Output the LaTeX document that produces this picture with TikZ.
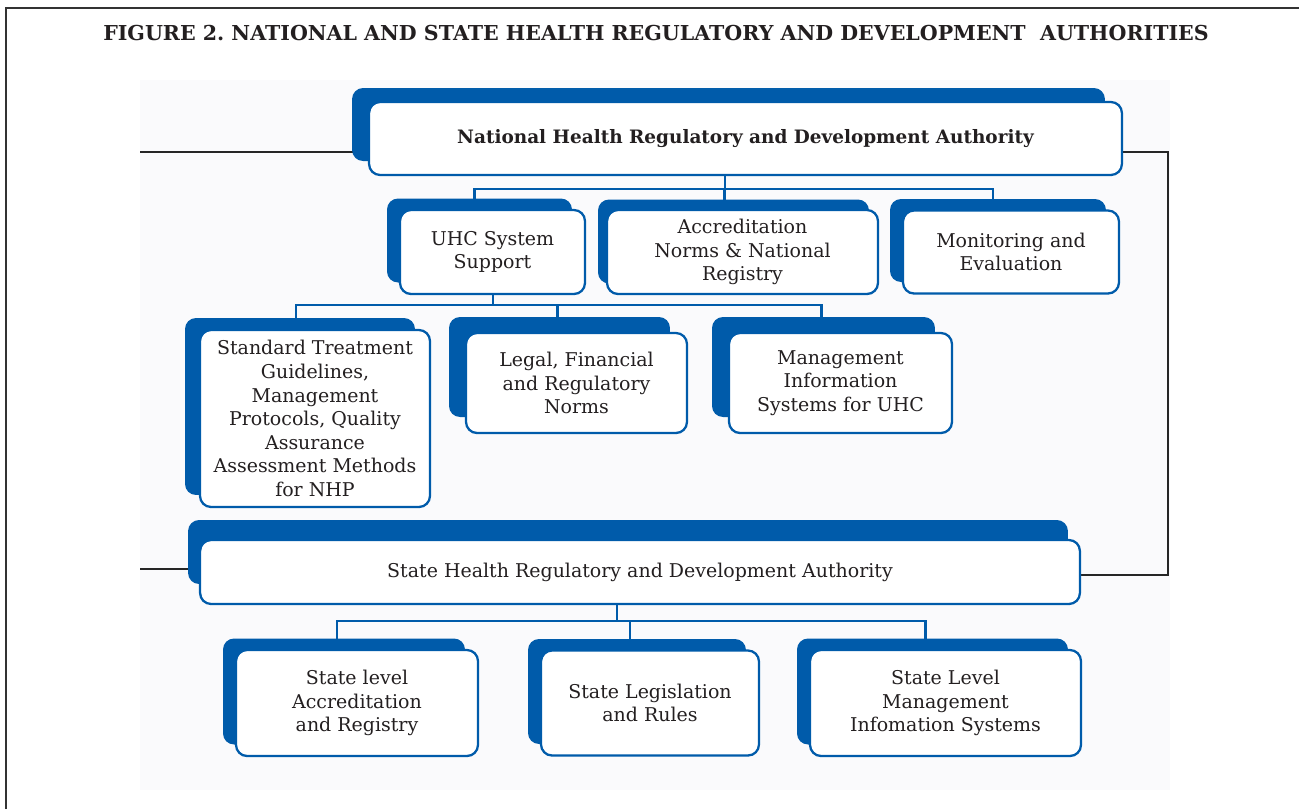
\documentclass[tikz,border=0pt]{standalone}
\usepackage{fontspec}
\setmainfont{DejaVu Serif}
\usepackage{tikz}
\usetikzlibrary{positioning,shadows,backgrounds}
\definecolor{f2blue}{RGB}{0,91,170}
\definecolor{f2ink}{RGB}{35,31,32}
\definecolor{f2back}{RGB}{250,250,252}
\tikzset{
  f2box/.style={rectangle, rounded corners=2.2mm, draw=f2blue, line width=1.3pt,
                fill=white, text=f2ink, align=center, inner sep=2pt,
                font=\fontsize{10.8}{13.4}\selectfont},
  f2sh/.style 2 args={general shadow={fill=f2blue, shadow xshift=#1, shadow yshift=#2}},
  f2card/.style={f2box, f2sh={-2.6mm}{2.3mm}},
  f2bus/.style={draw=f2blue, line width=1.5pt},
  f2link/.style={draw=black!85, line width=1.4pt},
}

\begin{document}
\frenchspacing
\begin{tikzpicture}[x=0.02cm, y=-0.02cm]
  \useasboundingbox (0,0) rectangle (1299,809);
  \draw[black!80, line width=1.1pt] (6,809) -- (6,8) -- (1299,8);
  \node[text=f2ink, font=\bfseries\fontsize{11.7}{14}\selectfont] (T) at (656,33)
    {FIGURE 2. NATIONAL AND STATE HEALTH REGULATORY AND DEVELOPMENT~\ AUTHORITIES};

  \node[f2box, f2sh={-3.4mm}{2.8mm}, minimum width=15.06cm, minimum height=1.46cm,
        font=\bfseries\fontsize{10.5}{13}\selectfont] (NA) at (745.5,138.5)
    {National Health Regulatory and Development Authority};
  \node[f2card, minimum width=3.7cm, minimum height=1.68cm] (US) at (492.5,252) {UHC System\\Support};
  \node[f2box, f2sh={-1.8mm}{2.1mm}, minimum width=5.42cm, minimum height=1.68cm] (AN) at (742.5,252) {Accreditation\\Norms \& National\\Registry};
  \node[f2card, minimum width=4.32cm, minimum height=1.66cm] (ME) at (1011,252) {Monitoring and\\Evaluation};

  \node[f2box, f2sh={-3mm}{2.4mm}, minimum width=4.6cm, minimum height=3.54cm] (SG) at (315,418.5)
    {Standard Treatment\\Guidelines,\\Management\\Protocols, Quality\\Assurance\\Assessment Methods\\for NHP};
  \node[f2box, f2sh={-3.4mm}{3.2mm}, minimum width=4.42cm, minimum height=2cm] (LF) at (576.5,383)
    {Legal, Financial\\and Regulatory\\Norms};
  \node[f2box, f2sh={-3.4mm}{3.2mm}, minimum width=4.46cm, minimum height=2cm] (MI) at (840.5,383)
    {Management\\Information\\Systems for UHC};

  \node[f2box, f2sh={-2.4mm}{4mm}, minimum width=17.6cm, minimum height=1.28cm] (ST) at (640,572)
    {State Health Regulatory and Development Authority};
  \node[f2card, minimum width=4.84cm, minimum height=2.12cm] (SA) at (357,703) {State level\\Accreditation\\and Registry};
  \node[f2card, minimum width=4.36cm, minimum height=2.1cm] (SL) at (650,703) {State Legislation\\and Rules};
  \node[f2card, minimum width=5.42cm, minimum height=2.12cm] (SM) at (945.5,703) {State Level\\Management\\Infomation Systems};

  \coordinate (LN) at (140,152);
  \coordinate (LS) at (140,569);
  \coordinate (RN) at (1168,152);
  \coordinate (RS) at (1168,575);
  \coordinate (B1) at (725,189);
  \coordinate (B2) at (493,305);
  \coordinate (B3) at (617,621);

  \begin{scope}[on background layer]
    \fill[f2back] (140,80) rectangle (1170,790);
    \draw[f2link] (LN) -- (LN -| NA.west);
    \draw[f2link] (LS) -- (LS -| ST.west);
    \draw[f2link] (NA.east |- RN) -- (RN) -- (RS) -- (RS -| ST.east);
    \draw[f2bus] (NA.south -| B1) -- (B1);
    \foreach \n in {US,AN,ME} \draw[f2bus] (B1) -| ([xshift=-3.6mm]\n.north);
    \draw[f2bus] (US.south -| B2) -- (B2);
    \foreach \n in {SG,LF,MI} \draw[f2bus] (B2) -| ([xshift=-3.8mm]\n.north);
    \draw[f2bus] (ST.south -| B3) -- (B3);
    \foreach \n in {SA,SL,SM} \draw[f2bus] (B3) -| ([xshift=-4mm]\n.north);
  \end{scope}
\end{tikzpicture}
\end{document}
